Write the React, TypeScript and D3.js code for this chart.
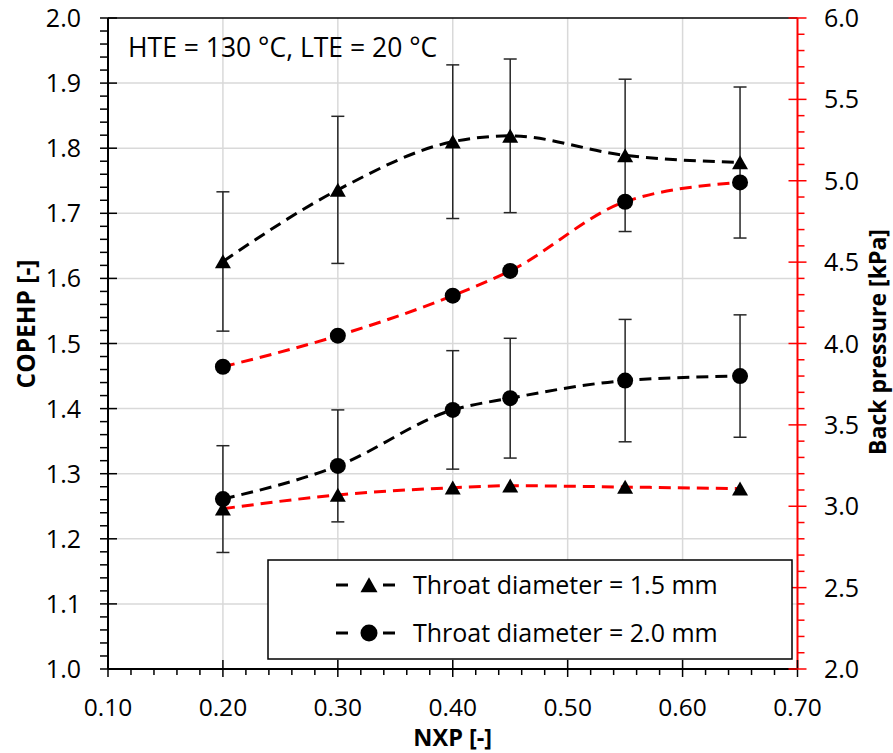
import React from "react";
import * as d3 from "d3";

const nxp = [0.2, 0.3, 0.4, 0.45, 0.55, 0.65];
const cop15 = [1.626, 1.736, 1.81, 1.819, 1.789, 1.778];
const cop15Err = [0.107, 0.113, 0.118, 0.118, 0.117, 0.116];
const cop20 = [1.261, 1.312, 1.398, 1.416, 1.443, 1.45];
const cop20Err = [0.082, 0.086, 0.091, 0.092, 0.094, 0.094];
const bp15 = [2.985, 3.069, 3.114, 3.126, 3.118, 3.108];
const bp20 = [3.857, 4.048, 4.294, 4.446, 4.871, 4.99];

const xTicks = [0.1, 0.2, 0.3, 0.4, 0.5, 0.6, 0.7];
const yLTicks = [1.0, 1.1, 1.2, 1.3, 1.4, 1.5, 1.6, 1.7, 1.8, 1.9, 2.0];
const yRTicks = [2.0, 2.5, 3.0, 3.5, 4.0, 4.5, 5.0, 5.5, 6.0];
const legendLabels = ["Throat diameter = 1.5 mm", "Throat diameter = 2.0 mm"];
const annotation = "HTE = 130 °C, LTE = 20 °C";
const xTitle = "NXP [-]";
const yLTitle = "COPEHP [-]";
const yRTitle = "Back pressure [kPa]";

const W = 893, H = 753;
const L = 108, R = 797.5, T = 18, B = 669;
const FONT = "'Open Sans', 'Noto Sans', sans-serif";

export default function App() {
  const x = d3.scaleLinear().domain([0.1, 0.7]).range([L, R]);
  const yL = d3.scaleLinear().domain([1, 2]).range([B, T]);
  const yR = d3.scaleLinear().domain([2, 6]).range([B, T]);

  const curve = d3.curveMonotoneX;
  const lineL = d3.line<number>().x((_, i) => x(nxp[i])).y((d) => yL(d)).curve(curve);
  const lineR = d3.line<number>().x((_, i) => x(nxp[i])).y((d) => yR(d)).curve(curve);

  const xMinor = d3.range(0.1, 0.7001, 0.02).filter((v) => Math.abs(v * 10 - Math.round(v * 10)) > 1e-6);
  const yLMinor = d3.range(1.0, 2.0001, 0.02).filter((v) => Math.abs(v * 10 - Math.round(v * 10)) > 1e-6);
  const yRMinor = d3.range(2.0, 6.0001, 0.1).filter((v) => Math.abs(v * 2 - Math.round(v * 2)) > 1e-6);

  const tri = (cx: number, cy: number, s = 8) =>
    `M${cx},${cy - s * 0.9} L${cx + s},${cy + s * 0.85} L${cx - s},${cy + s * 0.85} Z`;

  const errBars = (vals: number[], errs: number[], key: string) =>
    vals.map((v, i) => {
      const cx = x(nxp[i]);
      const y1 = yL(v + errs[i]);
      const y2 = yL(v - errs[i]);
      return (
        <g key={key + i} stroke="#262626" strokeWidth={1.5}>
          <line x1={cx} x2={cx} y1={y1} y2={y2} />
          <line x1={cx - 6.5} x2={cx + 6.5} y1={y1} y2={y1} />
          <line x1={cx - 6.5} x2={cx + 6.5} y1={y2} y2={y2} />
        </g>
      );
    });

  return (
    <svg width={W} height={H} style={{ position: "absolute", left: 0, top: 0, background: "#fff" }} fontFamily={FONT}>
      <rect x={0} y={0} width={W} height={H} fill="#fff" />
      {/* gridlines */}
      <g stroke="#d9d9d9" strokeWidth={1.5}>
        {xTicks.slice(1, -1).map((t) => (
          <line key={"gx" + t} x1={x(t)} x2={x(t)} y1={T} y2={B} />
        ))}
        {yLTicks.slice(1, -1).map((t) => (
          <line key={"gy" + t} x1={L} x2={R} y1={yL(t)} y2={yL(t)} />
        ))}
      </g>

      {/* series lines */}
      <path d={lineL(cop15) || ""} fill="none" stroke="#000" strokeWidth={3} strokeDasharray="12,7" />
      <path d={lineL(cop20) || ""} fill="none" stroke="#000" strokeWidth={3} strokeDasharray="12,7" />
      <path d={lineR(bp15) || ""} fill="none" stroke="#ff0000" strokeWidth={3} strokeDasharray="12,7" />
      <path d={lineR(bp20) || ""} fill="none" stroke="#ff0000" strokeWidth={3} strokeDasharray="12,7" />

      {/* error bars */}
      {errBars(cop15, cop15Err, "e15")}
      {errBars(cop20, cop20Err, "e20")}

      {/* markers */}
      {cop15.map((v, i) => (
        <path key={"m15" + i} d={tri(x(nxp[i]), yL(v))} fill="#000" />
      ))}
      {cop20.map((v, i) => (
        <circle key={"m20" + i} cx={x(nxp[i])} cy={yL(v)} r={8} fill="#000" />
      ))}
      {bp15.map((v, i) => (
        <path key={"b15" + i} d={tri(x(nxp[i]), yR(v))} fill="#000" />
      ))}
      {bp20.map((v, i) => (
        <circle key={"b20" + i} cx={x(nxp[i])} cy={yR(v)} r={8} fill="#000" />
      ))}

      {/* frame */}
      <line x1={L} x2={R} y1={T} y2={T} stroke="#000" strokeWidth={1.5} />
      <line x1={L} x2={R} y1={B} y2={B} stroke="#000" strokeWidth={2} />
      <line x1={L} x2={L} y1={T} y2={B} stroke="#000" strokeWidth={2} />
      <line x1={R} x2={R} y1={T} y2={B} stroke="#ff0000" strokeWidth={2} />

      {/* axis ticks */}
      <g stroke="#000" strokeWidth={1.5}>
        {yLTicks.map((t) => (
          <line key={"lt" + t} x1={L - 8} x2={L + 9} y1={yL(t)} y2={yL(t)} />
        ))}
        {yLMinor.map((t) => (
          <line key={"lm" + t} x1={L - 8} x2={L} y1={yL(t)} y2={yL(t)} />
        ))}
        {xTicks.map((t) => (
          <line key={"xt" + t} x1={x(t)} x2={x(t)} y1={B - 9} y2={B + 8} />
        ))}
        {xMinor.map((t) => (
          <line key={"xm" + t} x1={x(t)} x2={x(t)} y1={B} y2={B + 6} />
        ))}
      </g>
      <g stroke="#ff0000" strokeWidth={1.5}>
        {yRTicks.map((t) => (
          <line key={"rt" + t} x1={R - 9} x2={R + 9} y1={yR(t)} y2={yR(t)} />
        ))}
        {yRMinor.map((t) => (
          <line key={"rm" + t} x1={R} x2={R + 7} y1={yR(t)} y2={yR(t)} />
        ))}
      </g>

      {/* tick labels */}
      <g fontSize={25} fill="#000">
        {yLTicks.map((t) => (
          <text key={"ll" + t} x={81} y={yL(t)} dy="0.36em" textAnchor="end">
            {d3.format(".1f")(t)}
          </text>
        ))}
        {yRTicks.map((t) => (
          <text key={"rl" + t} x={824} y={yR(t)} dy="0.36em" textAnchor="start">
            {d3.format(".1f")(t)}
          </text>
        ))}
      </g>
      <g fontSize={24.5} fill="#000">
        {xTicks.map((t) => (
          <text key={"xl" + t} x={x(t)} y={707} dy="0.36em" textAnchor="middle">
            {d3.format(".2f")(t)}
          </text>
        ))}
      </g>

      {/* axis titles */}
      <text x={(L + R) / 2} y={738} dy="0.36em" textAnchor="middle" fontSize={23.5} fontWeight="bold">
        {xTitle}
      </text>
      <text transform="translate(26,324) rotate(-90)" dy="0.36em" textAnchor="middle" fontSize={24.5} fontWeight="bold">
        {yLTitle}
      </text>
      <text transform="translate(878,342) rotate(-90)" dy="0.36em" textAnchor="middle" fontSize={23} fontWeight="bold">
        {yRTitle}
      </text>

      {/* annotation */}
      <text x={128} y={57} fontSize={26.5}>
        {annotation}
      </text>

      {/* legend */}
      <rect x={268} y={560} width={524} height={99} fill="#fff" stroke="#000" strokeWidth={1.5} />
      {legendLabels.map((lab, i) => {
        const cy = 585 + i * 48;
        return (
          <g key={"lg" + i}>
            <line x1={336} x2={348} y1={cy} y2={cy} stroke="#000" strokeWidth={3} />
            <line x1={383} x2={395} y1={cy} y2={cy} stroke="#000" strokeWidth={3} />
            {i === 0 ? (
              <path d={tri(369, cy, 8.5)} fill="#000" />
            ) : (
              <circle cx={369} cy={cy} r={8.5} fill="#000" />
            )}
            <text x={413} y={cy} dy="0.36em" fontSize={25}>
              {lab}
            </text>
          </g>
        );
      })}
    </svg>
  );
}
